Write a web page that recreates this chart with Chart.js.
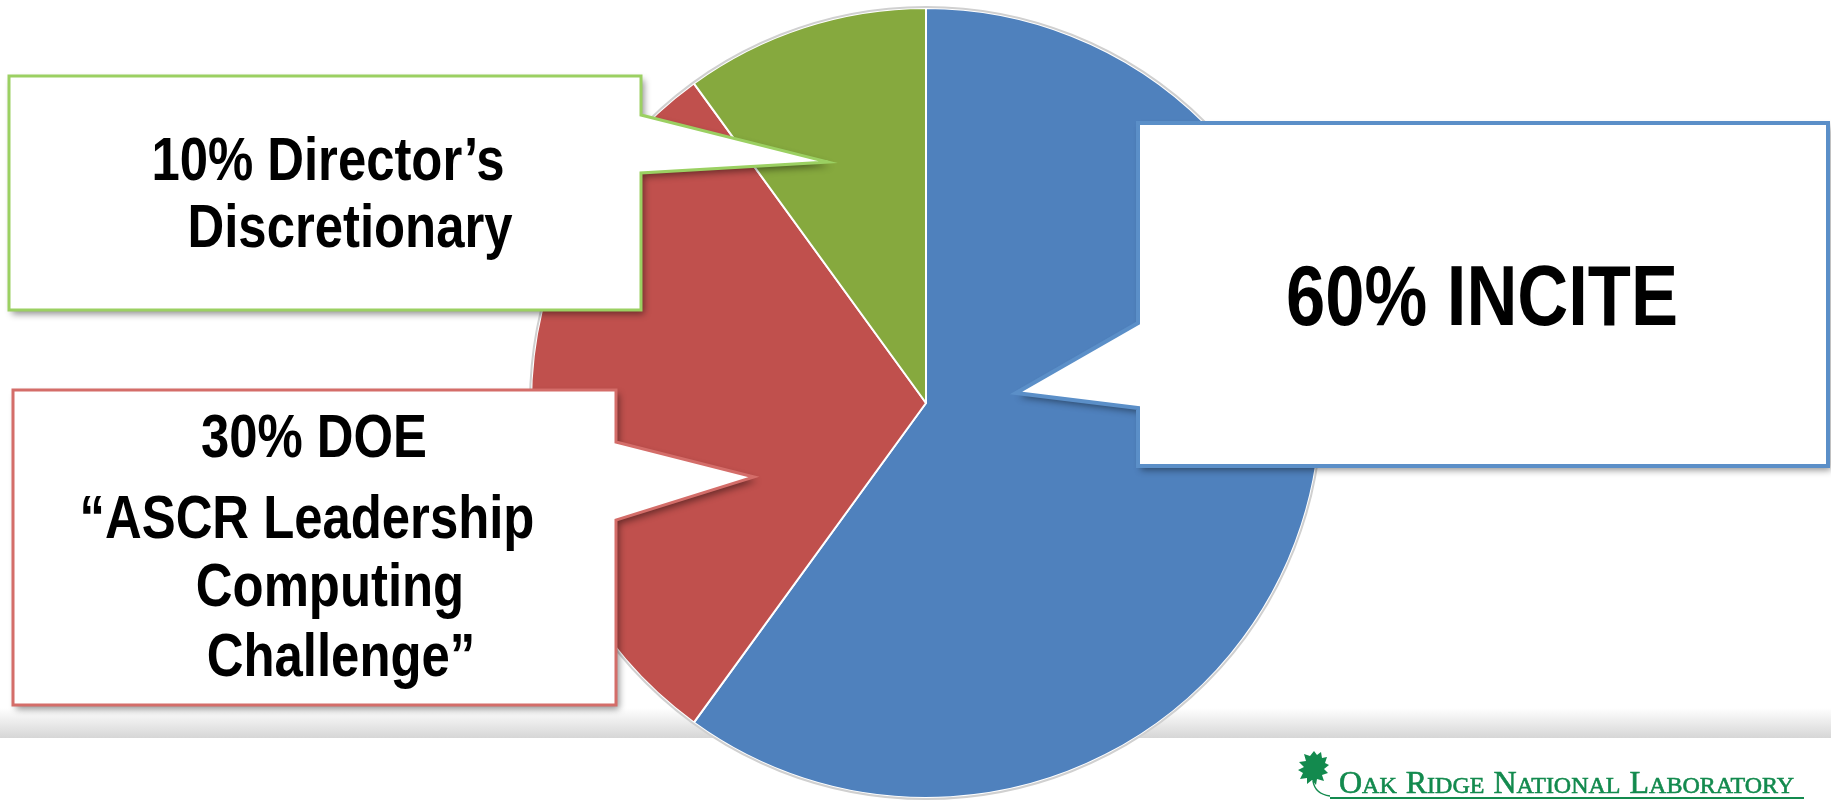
<!DOCTYPE html>
<html>
<head>
<meta charset="utf-8">
<title>Allocation of time</title>
<script src="https://cdn.jsdelivr.net/npm/chart.js@4.4.1/dist/chart.umd.min.js"></script>
<style>
  html, body { margin: 0; padding: 0; background: #ffffff; overflow: hidden; }
  #wrap { width: 1831px; height: 802px; }
</style>
</head>
<body>
<div id="wrap"><canvas id="pieChart" width="1831" height="802"></canvas></div>
<script>
(function () {
  'use strict';

  // programme shares, clockwise from 12 o'clock
  const categories = ['INCITE', 'DOE ASCR Leadership Computing Challenge', 'Director\u2019s Discretionary'];
  const shares = [60, 30, 10];
  const sliceColors = ['#4f81bd', '#c0504d', '#86a93e'];

  // callout texts, one list per slice
  const inciteLines = ['60% INCITE'];
  const doeLines = ['30% DOE', '\u201cASCR Leadership', 'Computing', 'Challenge\u201d'];
  const ddLines = ['10% Director\u2019s', 'Discretionary'];

  // Arial Narrow is not installed: squeeze Liberation Sans (Arial metrics) instead
  const SANS = '"Liberation Sans", Arial, sans-serif';
  const NARROW_X = 0.82;

  function callout(ctx, c) {
    const b = c.box;
    ctx.save();
    ctx.beginPath();
    ctx.moveTo(b[0], b[1]);
    ctx.lineTo(b[2], b[1]);
    if (c.side === 'right') {
      ctx.lineTo(b[2], c.p1);
      ctx.lineTo(c.tip[0], c.tip[1]);
      ctx.lineTo(b[2], c.p2);
      ctx.lineTo(b[2], b[3]);
      ctx.lineTo(b[0], b[3]);
    } else {
      ctx.lineTo(b[2], b[3]);
      ctx.lineTo(b[0], b[3]);
      ctx.lineTo(b[0], c.p2);
      ctx.lineTo(c.tip[0], c.tip[1]);
      ctx.lineTo(b[0], c.p1);
    }
    ctx.closePath();
    ctx.shadowColor = 'rgba(0,0,0,0.45)';
    ctx.shadowBlur = 7;
    ctx.shadowOffsetX = 3;
    ctx.shadowOffsetY = 4;
    ctx.fillStyle = '#ffffff';
    ctx.fill();
    ctx.shadowColor = 'transparent';
    ctx.lineWidth = c.lw;
    ctx.strokeStyle = c.stroke;
    ctx.lineJoin = 'miter';
    ctx.stroke();

    ctx.fillStyle = '#000000';
    ctx.textAlign = 'center';
    ctx.textBaseline = 'alphabetic';
    ctx.font = 'bold ' + c.size + 'px ' + SANS;
    c.lines.forEach(function (t, i) {
      ctx.save();
      ctx.translate(c.cx[i], c.base[i]);
      ctx.scale(NARROW_X, 1);
      ctx.fillText(t, 0, 0);
      ctx.restore();
    });
    ctx.restore();
  }

  function leaf(ctx, x, y) {
    ctx.save();
    ctx.translate(x, y);
    ctx.fillStyle = '#138a4e';
    ctx.beginPath();
    const pts = [[16,0],[19,4],[23,1],[24,7],[29,6],[27,12],[31,14],[26,18],[30,22],[24,24],[26,30],
      [19,28],[18,34],[14,29],[9,33],[9,27],[2,28],[5,22],[0,19],[6,16],[1,11],[8,10],[6,3],[12,5]];
    ctx.moveTo(pts[0][0], pts[0][1]);
    pts.forEach(function (p) { ctx.lineTo(p[0], p[1]); });
    ctx.closePath();
    ctx.fill();
    ctx.strokeStyle = '#138a4e';
    ctx.lineWidth = 1.5;
    ctx.beginPath();
    ctx.moveTo(15, 30);
    ctx.quadraticCurveTo(17, 43, 32, 45);
    ctx.stroke();
    ctx.restore();
  }

  function logoText(ctx, x, baseline) {
    const words = ['Oak', 'Ridge', 'National', 'Laboratory'];
    let cur = x;
    ctx.save();
    ctx.fillStyle = '#138a4e';
    ctx.strokeStyle = '#138a4e';
    ctx.lineWidth = 0.6;
    ctx.textBaseline = 'alphabetic';
    ctx.textAlign = 'left';
    words.forEach(function (w, i) {
      ctx.font = '32px "Liberation Serif", "DejaVu Serif", serif';
      ctx.fillText(w[0], cur, baseline);
      ctx.strokeText(w[0], cur, baseline);
      cur += ctx.measureText(w[0]).width;
      ctx.font = '24px "Liberation Serif", "DejaVu Serif", serif';
      const rest = w.slice(1).toUpperCase();
      ctx.fillText(rest, cur, baseline);
      ctx.strokeText(rest, cur, baseline);
      cur += ctx.measureText(rest).width;
      if (i < words.length - 1) cur += 9;
    });
    ctx.fillRect(1330, 797, 474, 2);
    ctx.restore();
  }

  const slideBackdrop = {
    id: 'slideBackdrop',
    beforeDraw: function (chart) {
      const ctx = chart.ctx;
      ctx.save();
      ctx.fillStyle = '#ffffff';
      ctx.fillRect(0, 0, chart.width, chart.height);
      const g = ctx.createLinearGradient(0, 708, 0, 738);
      g.addColorStop(0, '#ffffff');
      g.addColorStop(1, '#d6d6d6');
      ctx.fillStyle = g;
      ctx.fillRect(0, 708, chart.width, 30);
      ctx.restore();
    },
    afterDatasetsDraw: function (chart) {
      const arc = chart.getDatasetMeta(0).data[0];
      const ctx = chart.ctx;
      ctx.save();
      ctx.strokeStyle = '#d0d0d0';
      ctx.lineWidth = 2;
      ctx.beginPath();
      ctx.arc(arc.x, arc.y, arc.outerRadius + 1, 0, Math.PI * 2);
      ctx.stroke();
      ctx.restore();
    },
    afterDraw: function (chart) {
      const ctx = chart.ctx;
      callout(ctx, {
        box: [9, 76, 641, 310], side: 'right', p1: 115, p2: 173, tip: [828, 162],
        stroke: '#9bd062', lw: 3, lines: ddLines, size: 62,
        cx: [328, 350], base: [180, 247]
      });
      callout(ctx, {
        box: [13, 390, 616, 705], side: 'right', p1: 442, p2: 520, tip: [754, 477],
        stroke: '#d46d69', lw: 3, lines: doeLines, size: 62,
        cx: [314, 307, 330, 341], base: [457, 538, 606, 676]
      });
      callout(ctx, {
        box: [1138, 123, 1828, 466], side: 'left', p1: 323, p2: 408, tip: [1016, 393],
        stroke: '#5b8fc8', lw: 4, lines: inciteLines, size: 86,
        cx: [1482], base: [325]
      });
      leaf(ctx, 1298, 751);
      logoText(ctx, 1339, 793);
    }
  };

  new Chart(document.getElementById('pieChart'), {
    type: 'pie',
    data: {
      labels: categories,
      datasets: [{
        data: shares,
        backgroundColor: sliceColors,
        borderColor: '#ffffff',
        borderWidth: 2,
      }],
    },
    options: {
      responsive: false,
      animation: false,
      layout: { padding: { top: 7, bottom: 3, left: 530, right: 509 } },
      plugins: { legend: { display: false }, tooltip: { enabled: false } },
    },
    plugins: [slideBackdrop],
  });
})();
</script>
</body>
</html>
